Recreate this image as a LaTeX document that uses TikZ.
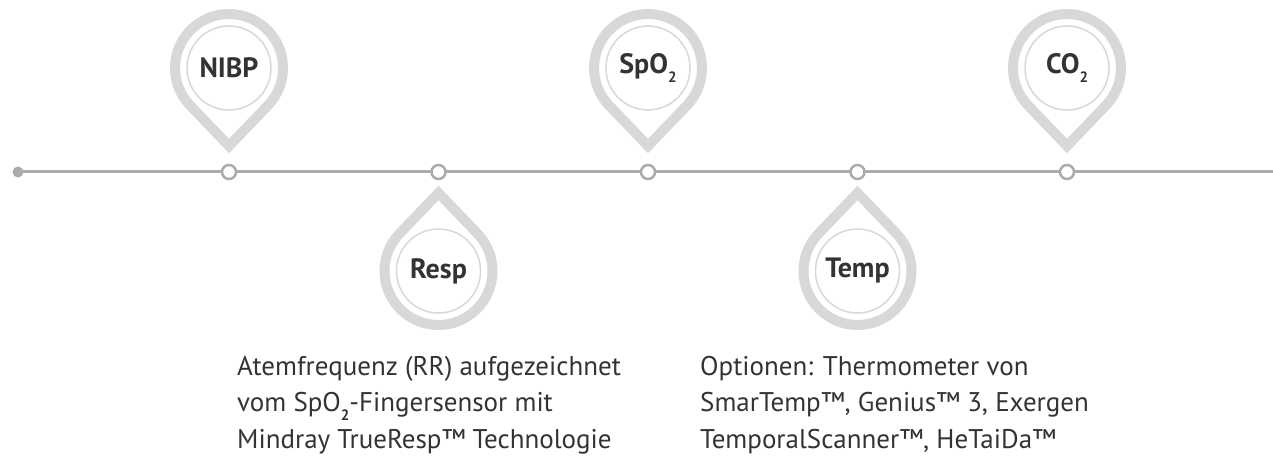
\documentclass[tikz,border=0pt]{standalone}
\usepackage{fontspec}
\setmainfont{PT Sans}
\usepackage{xcolor}
\definecolor{ringgrau}{HTML}{D8D8D8}
\definecolor{liniengrau}{HTML}{ABABAB}
\definecolor{schrift}{HTML}{333333}
\usetikzlibrary{positioning}
\newcommand{\tief}[1]{\raisebox{-0.32em}{\fontsize{15}{15}\selectfont\bfseries #1}}

\begin{document}
\begin{tikzpicture}[x=1pt, y=1pt,
    tick/.style={circle, draw=liniengrau, fill=white, line width=2.5pt, minimum size=14pt, inner sep=0pt, outer sep=0pt},
    kreis/.style={circle, draw=ringgrau, line width=1.5pt, minimum size=84pt, inner sep=0pt, outer sep=0pt, text=schrift, font=\fontsize{28}{30}\selectfont\bfseries},
    tropfen/.style={draw=ringgrau, line width=10pt, miter limit=10},
    beschreibung/.style={align=left, anchor=base west, inner sep=0pt, text=schrift, font=\fontsize{27}{36.5}\selectfont}]

        \useasboundingbox (0,0) rectangle (1273,466);

        % Zeitstrahl
        \coordinate (anfang) at (18,294);
        \coordinate (ende) at (1278,294);
        \draw[liniengrau, line width=3pt] (anfang) -- (ende);
        \fill[liniengrau] (anfang) circle[radius=5.5pt];
        \fill[liniengrau] (ende) circle[radius=5.5pt];

        % Punkte auf dem Zeitstrahl
        \node[tick] (tick1) at (229,294) {};
        \node[tick, right=195.5pt of tick1] (tick2) {};
        \node[tick, right=195.5pt of tick2] (tick3) {};
        \node[tick, right=195.5pt of tick3] (tick4) {};
        \node[tick, right=195.5pt of tick4] (tick5) {};

        % Kreise oben
        \node[kreis, above=55pt of tick1] (nibp) {NIBP};
        \node[kreis, above=55pt of tick3] (spo) {SpO\tief{2}};
        \node[kreis, above=55pt of tick5] (co) {CO\tief{2}};

        % Kreise unten
        \node[kreis, below=50pt of tick2] (resp) {Resp};
        \node[kreis, below=50pt of tick4] (temp) {Temp};

        % Tropfen oben
        \draw[tropfen] ([yshift=-78pt]nibp.center) -- ([shift={(-43.8:54pt)}]nibp.center) arc[start angle=-43.8, end angle=223.8, radius=54pt] -- cycle;
        \draw[tropfen] ([yshift=-78pt]spo.center) -- ([shift={(-43.8:54pt)}]spo.center) arc[start angle=-43.8, end angle=223.8, radius=54pt] -- cycle;
        \draw[tropfen] ([yshift=-78pt]co.center) -- ([shift={(-43.8:54pt)}]co.center) arc[start angle=-43.8, end angle=223.8, radius=54pt] -- cycle;

        % Tropfen unten
        \draw[tropfen] ([yshift=78pt]resp.center) -- ([shift={(43.8:54pt)}]resp.center) arc[start angle=43.8, end angle=-223.8, radius=54pt] -- cycle;
        \draw[tropfen] ([yshift=78pt]temp.center) -- ([shift={(43.8:54pt)}]temp.center) arc[start angle=43.8, end angle=-223.8, radius=54pt] -- cycle;

        % Texte
        \node[beschreibung] (resptext) at (237,18) {Atemfrequenz (RR) aufgezeichnet\\vom SpO\tief{2}-Fingersensor mit\\Mindray TrueResp™ Technologie};
        \node[beschreibung] (temptext) at (700,18) {Optionen: Thermometer von\\SmarTemp™, Genius™ 3, Exergen\\TemporalScanner™, HeTaiDa™};

      \end{tikzpicture}
\end{document}
